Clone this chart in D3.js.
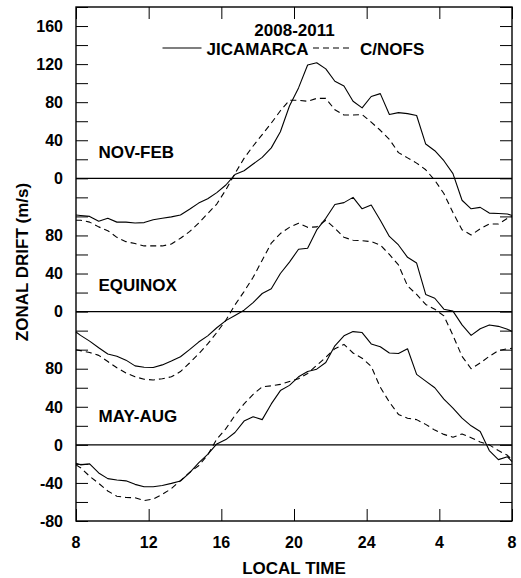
<!DOCTYPE html>
<html>
<head>
<meta charset="utf-8">
<script src="https://cdn.jsdelivr.net/npm/d3@7"></script>
<style>
  html, body { margin: 0; padding: 0; background: #fff; }
  svg { display: block; }
  text { font-family: "Liberation Sans", Arial, sans-serif; font-weight: bold; fill: #000; }
</style>
</head>
<body>
<svg id="chart" width="521" height="578"></svg>
<script>
// ---------- DATA ----------
const hours = [8, 8.25, 8.75, 9.25, 9.75, 10.25, 10.75, 11.25, 11.75, 12.25, 12.75, 13.25, 13.75,
  14.25, 14.75, 15.25, 15.75, 16.25, 16.75, 17.25, 17.75, 18.25, 18.75, 19.25, 19.75, 20.25, 20.75,
  21.25, 21.75, 22.25, 22.75, 23.25, 23.75, 24.25, 24.75, 25.25, 25.75, 26.25, 26.75, 27.25, 27.75,
  28.25, 28.75, 29.25, 29.75, 30.25, 30.75, 31.25, 31.75, 32];

const panels = ["NOV-FEB", "EQUINOX", "MAY-AUG"];
const panelOffsets = [280, 140, 0];

const novfebJicamarca = [-38.5, -39, -40, -45, -42, -46, -46, -47, -46.5, -43.5, -42, -40.5, -38.5,
  -32.5, -26, -21.5, -15, -7, 4, 8, 15, 22, 32, 49, 76, 95, 119,
  121.5, 115, 102, 97, 81, 74, 86, 89, 67, 69, 68, 66, 36, 29,
  18.5, 5, -23, -32, -30.5, -36.5, -37, -37.5, -39];
const novfebCnofs = [-44, -44, -46, -51, -55, -62, -66.5, -68.5, -71, -71, -71, -69, -63,
  -56, -47, -37, -27, -12, 5, 21, 34, 46, 58, 71, 82, 82, 81,
  84, 84, 72, 66.5, 66.5, 67, 59, 50.5, 41, 27, 21.5, 16, 9, -2,
  -16, -36, -54, -59.5, -53, -48, -48, -42, -40];

const equinoxJicamarca = [-21.5, -25, -31, -38, -44.5, -47, -51, -57, -58.5, -58.8, -56, -52, -47.5,
  -40, -32, -25.5, -17, -9.5, -4, 1.5, 9.5, 19, 24, 40, 52, 65.5, 66.5,
  85.8, 98, 112.5, 114.5, 120, 108, 112, 96, 79, 70, 57, 51, 18, 14,
  2.5, 0.5, -14, -25, -18, -14, -15.5, -18.5, -21];
const equinoxCnofs = [-40, -41, -43, -46, -52.5, -59, -64.5, -68.5, -71, -71.8, -70.5, -68.5, -63,
  -54, -44.5, -34, -22, -9, 7, 21, 36, 54, 72, 82, 88.5, 92.8, 88.5,
  89, 96, 87.5, 78, 75, 74.5, 73.5, 70, 60, 49, 27, 18, 7.5, 2.5,
  -4.5, -25, -47, -60, -54, -47, -41, -39, -38.5];

const mayaugJicamarca = [-19.3, -21, -20, -29.5, -35.5, -37, -37.8, -41.5, -44, -44, -42.7, -40.5, -38,
  -29.5, -19, -10, 1, 5.5, 13, 25, 29.5, 26.5, 43, 57, 62.5, 71.5, 77,
  79.5, 86.5, 104, 114.5, 119, 118, 106, 103, 96.5, 96, 101, 74, 67, 60,
  48, 38.5, 28, 20, 14, -6, -15.5, -12.5, -17.5];
const mayaugCnofs = [-21, -24, -33, -40.5, -48.5, -54, -55.3, -55.5, -58.5, -57, -52, -46, -37.5,
  -29, -22, -10.5, 6, 17, 31, 43, 53, 61, 62, 63.5, 66.5, 69.5, 75,
  83.5, 92, 101, 105.5, 96.5, 91, 82.5, 60.5, 45, 32, 28, 26.5, 21.5, 15.5,
  11, 8, 11.5, 7.5, 3, 0, -6, -11, -15.8];

const xTickValues = [8, 12, 16, 20, 24, 28, 32];
const xTickLabels = ["8", "12", "16", "20", "24", "4", "8"];
const yTickLabels = [160, 120, 80, 40, 0, 80, 40, 0, 80, 40, 0, -40, -80];
const yTickPositions = [440, 400, 360, 320, 280, 220, 180, 140, 80, 40, 0, -40, -80];

const seriesNames = ["JICAMARCA", "C/NOFS"];
const titleText = "2008-2011";

// ---------- LAYOUT ----------
const svg = d3.select("#chart");
const mLeft = 76, mRight = 512, mTop = 7, mBottom = 521;

const x = d3.scaleLinear().domain([8, 32]).range([mLeft, mRight]);
const y = d3.scaleLinear().domain([-80, 460]).range([mBottom, mTop]);

const panelData = [
  [novfebJicamarca, novfebCnofs],
  [equinoxJicamarca, equinoxCnofs],
  [mayaugJicamarca, mayaugCnofs]
];

// zero lines
panelOffsets.forEach(o => {
  svg.append("line")
    .attr("x1", mLeft).attr("x2", mRight)
    .attr("y1", y(o)).attr("y2", y(o))
    .attr("stroke", "#000").attr("stroke-width", 1.4);
});

// axes with inward ticks
const yTicksAll = d3.range(-80, 461, 20);
const axL = svg.append("g").attr("transform", `translate(${mLeft},0)`)
  .call(d3.axisRight(y).tickValues(yTicksAll).tickSize(12).tickFormat(""));
const axR = svg.append("g").attr("transform", `translate(${mRight},0)`)
  .call(d3.axisLeft(y).tickValues(yTicksAll).tickSize(12).tickFormat(""));
const axB = svg.append("g").attr("transform", `translate(0,${mBottom})`)
  .call(d3.axisTop(x).tickValues(xTickValues).tickSize(12).tickFormat(""));
const axT = svg.append("g").attr("transform", `translate(0,${mTop})`)
  .call(d3.axisBottom(x).tickValues(xTickValues).tickSize(12).tickFormat(""));
[axL, axR, axB, axT].forEach(g => {
  g.select(".domain").remove();
  g.selectAll(".tick line").attr("stroke", "#000").attr("stroke-width", 1);
});

// frame
svg.append("rect")
  .attr("x", mLeft).attr("y", mTop)
  .attr("width", mRight - mLeft).attr("height", mBottom - mTop)
  .attr("fill", "none").attr("stroke", "#000").attr("stroke-width", 1.4);

// y tick labels
svg.append("g").selectAll("text")
  .data(yTickPositions)
  .join("text")
  .attr("x", 63)
  .attr("y", d => y(d))
  .attr("dy", "0.36em")
  .attr("text-anchor", "end")
  .attr("font-size", 16)
  .text((d, i) => yTickLabels[i]);

// x tick labels
svg.append("g").selectAll("text")
  .data(xTickValues)
  .join("text")
  .attr("x", d => x(d))
  .attr("y", 548)
  .attr("text-anchor", "middle")
  .attr("font-size", 16)
  .text((d, i) => xTickLabels[i]);

// axis titles
svg.append("text")
  .attr("x", (mLeft + mRight) / 2).attr("y", 574)
  .attr("text-anchor", "middle").attr("font-size", 17)
  .text("LOCAL TIME");
svg.append("text")
  .attr("transform", "translate(28,262) rotate(-90)")
  .attr("text-anchor", "middle").attr("font-size", 17)
  .text("ZONAL DRIFT (m/s)");

// lines
const line = d3.line().x((d, i) => x(hours[i])).y(d => d);
panelData.forEach((pair, p) => {
  const o = panelOffsets[p];
  pair.forEach((vals, s) => {
    svg.append("path")
      .datum(vals.map(v => y(v + o)))
      .attr("d", line)
      .attr("fill", "none")
      .attr("stroke", "#000")
      .attr("stroke-width", 1.1)
      .attr("stroke-linejoin", "round")
      .attr("stroke-dasharray", s === 1 ? "6,4" : null);
  });
});

// panel labels
const panelLabelY = [157.5, 290.5, 421.5];
panels.forEach((name, p) => {
  svg.append("text")
    .attr("x", 98.5).attr("y", panelLabelY[p])
    .attr("font-size", 17)
    .text(name);
});

// legend
svg.append("text")
  .attr("x", 294.5).attr("y", 36)
  .attr("text-anchor", "middle").attr("font-size", 17)
  .text(titleText);
svg.append("line")
  .attr("x1", 162.5).attr("x2", 201.5).attr("y1", 48).attr("y2", 48)
  .attr("stroke", "#000").attr("stroke-width", 1.1);
svg.append("text")
  .attr("x", 206.5).attr("y", 55)
  .attr("font-size", 17)
  .text(seriesNames[0]);
svg.append("line")
  .attr("x1", 313).attr("x2", 352).attr("y1", 48).attr("y2", 48)
  .attr("stroke", "#000").attr("stroke-width", 1.1)
  .attr("stroke-dasharray", "6,4");
svg.append("text")
  .attr("x", 360).attr("y", 55)
  .attr("font-size", 17)
  .text(seriesNames[1]);
</script>
</body>
</html>
